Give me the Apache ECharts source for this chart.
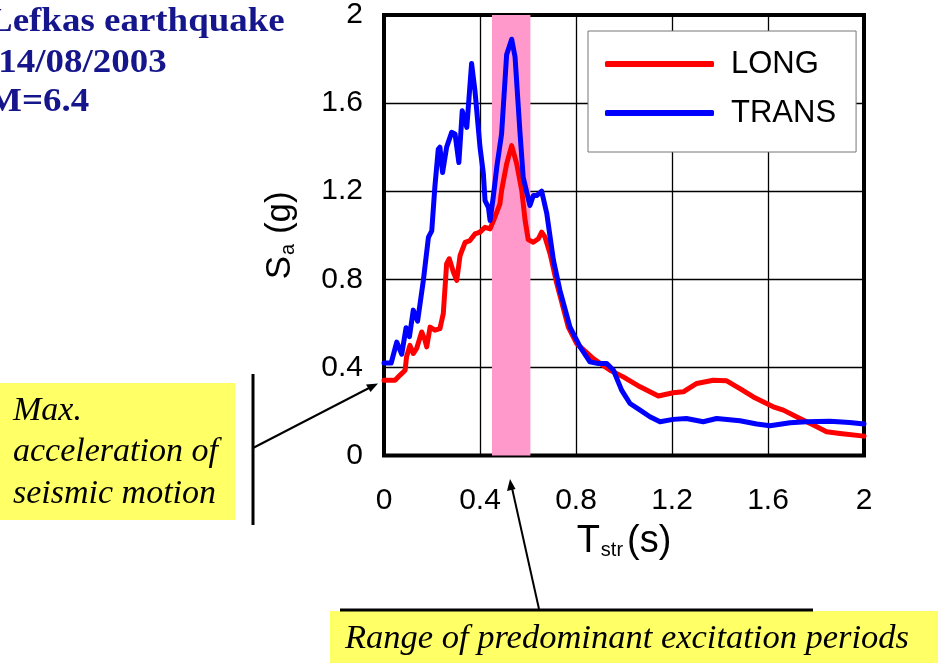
<!DOCTYPE html>
<html>
<head>
<meta charset="utf-8">
<script src="https://cdn.jsdelivr.net/npm/echarts@6/dist/echarts.min.js"></script>
<style>html,body{margin:0;padding:0;background:#fff;}#c{width:938px;height:663px;}</style>
</head>
<body>
<div id="c"></div>
<script>
// ---- data ----
var periodsLong = [0.0,0.046,0.067,0.088,0.094,0.108,0.122,0.136,0.157,0.171,0.178,0.192,0.212,0.233,0.247,0.261,0.272,0.289,0.303,0.317,0.338,0.358,0.379,0.4,0.421,0.442,0.462,0.483,0.49,0.511,0.532,0.553,0.574,0.588,0.601,0.622,0.643,0.657,0.671,0.692,0.72,0.768,0.803,0.872,0.942,0.997,1.067,1.143,1.205,1.247,1.303,1.372,1.428,1.483,1.539,1.622,1.664,1.733,1.789,1.844,1.9,2.0];
var saLong = [0.342,0.342,0.365,0.387,0.448,0.50,0.463,0.486,0.561,0.523,0.493,0.583,0.569,0.576,0.644,0.871,0.893,0.833,0.795,0.908,0.968,0.976,1.006,1.014,1.036,1.029,1.082,1.142,1.203,1.324,1.407,1.324,1.203,1.067,0.98,0.968,0.984,1.014,0.991,0.916,0.78,0.583,0.508,0.44,0.387,0.357,0.312,0.27,0.285,0.289,0.327,0.342,0.339,0.304,0.266,0.221,0.206,0.168,0.138,0.108,0.10,0.088];
var periodsTrans = [0.0,0.03,0.053,0.074,0.092,0.106,0.122,0.14,0.164,0.185,0.199,0.212,0.226,0.233,0.244,0.261,0.282,0.296,0.312,0.326,0.345,0.365,0.379,0.4,0.414,0.421,0.435,0.442,0.455,0.47,0.49,0.511,0.532,0.546,0.567,0.58,0.608,0.622,0.636,0.657,0.678,0.706,0.733,0.775,0.817,0.858,0.893,0.928,0.956,0.99,1.025,1.067,1.108,1.15,1.205,1.26,1.33,1.386,1.483,1.553,1.608,1.692,1.76,1.858,1.94,2.0];
var saTrans = [0.42,0.42,0.515,0.46,0.58,0.54,0.66,0.61,0.795,0.99,1.02,1.22,1.39,1.40,1.285,1.40,1.467,1.46,1.33,1.565,1.49,1.78,1.656,1.40,1.28,1.157,1.127,1.067,1.172,1.31,1.46,1.82,1.89,1.81,1.46,1.263,1.135,1.18,1.18,1.20,1.10,0.886,0.75,0.583,0.493,0.425,0.418,0.418,0.387,0.297,0.236,0.206,0.176,0.153,0.164,0.168,0.153,0.168,0.158,0.143,0.135,0.149,0.153,0.156,0.15,0.143];
var seriesNames = ['LONG', 'TRANS'];
var excitationRange = [0.45, 0.61];
var titleLines = ['Lefkas earthquake', '(14/08/2003', 'M=6.4'];
var noteMax = ['Max.', 'acceleration of', 'seismic motion'];
var noteRange = 'Range of predominant excitation periods';

function pairs(xs, ys) { return xs.map(function (x, i) { return [x, ys[i]]; }); }

var chart = echarts.init(document.getElementById('c'));
var sans = '"Liberation Sans", Arial, sans-serif';
var serif = '"Liberation Serif", "Times New Roman", serif';

var gx0 = 384, gy0 = 14, gw = 480, gh = 441.5;

function serifText(x, y, txt, opts) {
  opts = opts || {};
  return {
    type: 'text', x: x, y: y, scaleX: opts.scaleX || 1, z: 100,
    style: {
      text: txt, x: 0, y: 0, fill: opts.color || '#000',
      font: (opts.italic ? 'italic ' : '') + (opts.bold ? 'bold ' : '') + (opts.size || 34) + 'px ' + serif,
      align: 'left', verticalAlign: 'middle'
    }
  };
}

var graphics = [];
// title
var titleBase = [33, 74, 113];
var titleX = [-12, -14, -13];
titleLines.forEach(function (t, i) {
  graphics.push(serifText(titleX[i], titleBase[i] - 11, t, {bold: true, size: 33, scaleX: 1.12, color: '#16168c'}));
});
// left note
graphics.push({type: 'rect', z: 90, shape: {x: 0, y: 383, width: 235, height: 137}, style: {fill: '#ffff66'}});
var noteBase = [422, 463, 505];
noteMax.forEach(function (t, i) {
  graphics.push(serifText(13, noteBase[i] - 11, t, {italic: true, size: 34}));
});
graphics.push({type: 'line', z: 100, shape: {x1: 253, y1: 374, x2: 253, y2: 525}, style: {stroke: '#000', lineWidth: 3}});
graphics.push({type: 'line', z: 100, shape: {x1: 253, y1: 448, x2: 370, y2: 387.5}, style: {stroke: '#000', lineWidth: 2}});
graphics.push({type: 'polygon', z: 100, shape: {points: [[378, 383.5], [366, 384.5], [370.5, 392]]}, style: {fill: '#000'}});
// bottom note
graphics.push({type: 'rect', z: 90, shape: {x: 330, y: 611, width: 608, height: 52}, style: {fill: '#ffff66'}});
graphics.push(serifText(345, 639, noteRange, {italic: true, size: 34.5}));
graphics.push({type: 'line', z: 100, shape: {x1: 340, y1: 610, x2: 813, y2: 610}, style: {stroke: '#000', lineWidth: 3}});
graphics.push({type: 'line', z: 100, shape: {x1: 539, y1: 609, x2: 512, y2: 488}, style: {stroke: '#000', lineWidth: 2}});
graphics.push({type: 'polygon', z: 100, shape: {points: [[510, 479], [507, 491], [515.5, 489]]}, style: {fill: '#000'}});

chart.setOption({
  animation: false,
  backgroundColor: '#ffffff',
  grid: {left: gx0, top: gy0, width: gw, height: gh, show: true, borderColor: '#000', borderWidth: 4, backgroundColor: '#fff', containLabel: false},
  legend: {
    show: true, orient: 'vertical', left: 588, top: 31,
    data: seriesNames,
    icon: 'roundRect', itemWidth: 109, itemHeight: 6, itemGap: 13,
    padding: [15, 20, 21, 17],
    backgroundColor: '#fff', borderColor: '#777', borderWidth: 1,
    textStyle: {fontFamily: sans, fontSize: 31, color: '#000', lineHeight: 36, padding: [0, 0, 0, 12]}
  },
  xAxis: {
    type: 'value', min: 0, max: 2, interval: 0.4,
    axisLine: {show: false}, axisTick: {show: false},
    splitLine: {show: true, lineStyle: {color: '#000', width: 1.3}},
    axisLabel: {fontFamily: sans, fontSize: 30, color: '#000', margin: 30},
    name: '{m|T}{s|str}{m|(s)}', nameLocation: 'middle', nameGap: 63,
    nameTextStyle: {
      rich: {
        m: {fontFamily: sans, fontSize: 38, color: '#000', lineHeight: 42, verticalAlign: 'bottom'},
        s: {fontFamily: sans, fontSize: 20, color: '#000', lineHeight: 20, verticalAlign: 'bottom', padding: [0, 4, 0, 1]}
      }
    }
  },
  yAxis: {
    type: 'value', min: 0, max: 2, interval: 0.4,
    axisLine: {show: false}, axisTick: {show: false},
    splitLine: {show: true, lineStyle: {color: '#000', width: 1.3}},
    axisLabel: {fontFamily: sans, fontSize: 30, color: '#000', margin: 21},
    name: '{m|S}{s|a}{m| (g)}', nameLocation: 'middle', nameGap: 86, nameRotate: 90,
    nameTextStyle: {
      rich: {
        m: {fontFamily: sans, fontSize: 35, color: '#000', lineHeight: 38, verticalAlign: 'bottom'},
        s: {fontFamily: sans, fontSize: 20, color: '#000', lineHeight: 19, verticalAlign: 'bottom', padding: [0, 0, 0, 1]}
      }
    }
  },
  series: [
    {
      name: seriesNames[0], type: 'line', data: pairs(periodsLong, saLong),
      symbol: 'none', color: '#ff0000', lineStyle: {width: 5, color: '#ff0000', cap: 'round', join: 'round'}, z: 3,
      markArea: {
        silent: true, itemStyle: {color: '#ff99cc', opacity: 1},
        data: [[{xAxis: excitationRange[0]}, {xAxis: excitationRange[1]}]]
      }
    },
    {
      name: seriesNames[1], type: 'line', data: pairs(periodsTrans, saTrans),
      symbol: 'none', color: '#0000ff', lineStyle: {width: 5, color: '#0000ff', cap: 'round', join: 'round'}, z: 4
    }
  ],
  graphic: graphics
});
</script>
</body>
</html>
